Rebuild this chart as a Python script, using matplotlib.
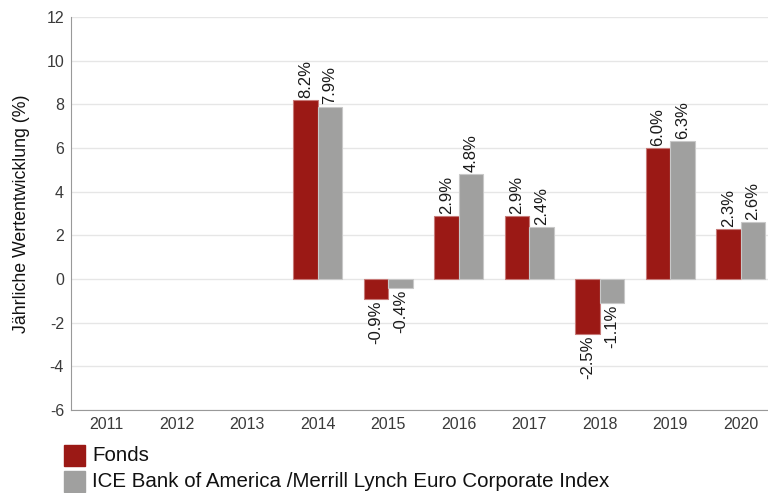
import matplotlib
matplotlib.use("Agg")
import matplotlib.pyplot as plt
import matplotlib.patches as mpatches
import numpy as np

plt.rcParams['font.family'] = ['Liberation Sans', 'DejaVu Sans']

years = ["2011", "2012", "2013", "2014", "2015", "2016", "2017", "2018", "2019", "2020"]
fonds = [np.nan, np.nan, np.nan, 8.2, -0.9, 2.9, 2.9, -2.5, 6.0, 2.3]
index = [np.nan, np.nan, np.nan, 7.9, -0.4, 4.8, 2.4, -1.1, 6.3, 2.6]
series_names = ["Fonds", "ICE Bank of America /Merrill Lynch Euro Corporate Index"]
colors = ["#9b1915", "#a0a09f"]
edges = ["#c77a78", "#c8c8c8"]
yticks = [-6, -4, -2, 0, 2, 4, 6, 8, 10, 12]

fig = plt.figure(figsize=(7.68, 4.93), dpi=100)
ax = fig.add_axes([71/768, 83/493, 705/768, 393/493])

x = np.arange(len(years))
w = 0.35
for i, (vals, c, ec) in enumerate(zip([fonds, index], colors, edges)):
    xs = x - w/2 + i*w
    ax.bar(xs, vals, width=w, color=c, edgecolor=ec, linewidth=0.8, zorder=3)
    for xi, v in zip(xs, vals):
        if np.isnan(v):
            continue
        txt = f"{v:.1f}%"
        if v >= 0:
            ax.annotate(txt, (xi, v), xytext=(0, 1.5), textcoords="offset points",
                        rotation=90, ha="center", va="bottom", fontsize=12, color="#1a1a1a")
        else:
            ax.annotate(txt, (xi, v), xytext=(0, -1.5), textcoords="offset points",
                        rotation=90, ha="center", va="top", fontsize=12, color="#1a1a1a")

ax.set_xlim(-0.5, len(years) - 0.5)
ax.set_ylim(-6, 12)
ax.set_yticks(yticks)
ax.set_yticklabels([str(t) for t in yticks])
ax.set_xticks(x)
ax.set_xticklabels(years)
ax.tick_params(axis='both', length=0, labelsize=11.5, colors="#3a3a3a")
ax.tick_params(axis='y', pad=5)
ax.tick_params(axis='x', pad=5)
ax.grid(axis='y', color="#e6e6e6", linewidth=1, zorder=0)
for s in ["top", "right"]:
    ax.spines[s].set_visible(False)
ax.spines["left"].set_color("#999999")
ax.spines["bottom"].set_color("#999999")
ax.set_ylabel("Jährliche Wertentwicklung (%)", fontsize=12.8, color="#111111", labelpad=12)

# legend
for j, (name, c) in enumerate(zip(series_names, colors)):
    top = 445 + j * 26
    fig.patches.append(mpatches.Rectangle((64/768, 1 - (top + 21)/493), 21/768, 21/493,
                                          transform=fig.transFigure, color=c))
    fig.text(92/768, 1 - (top + 10.5)/493, name, fontsize=14.8,
             va="center", ha="left", color="#111111")

fig.savefig("out.png", dpi=100)
